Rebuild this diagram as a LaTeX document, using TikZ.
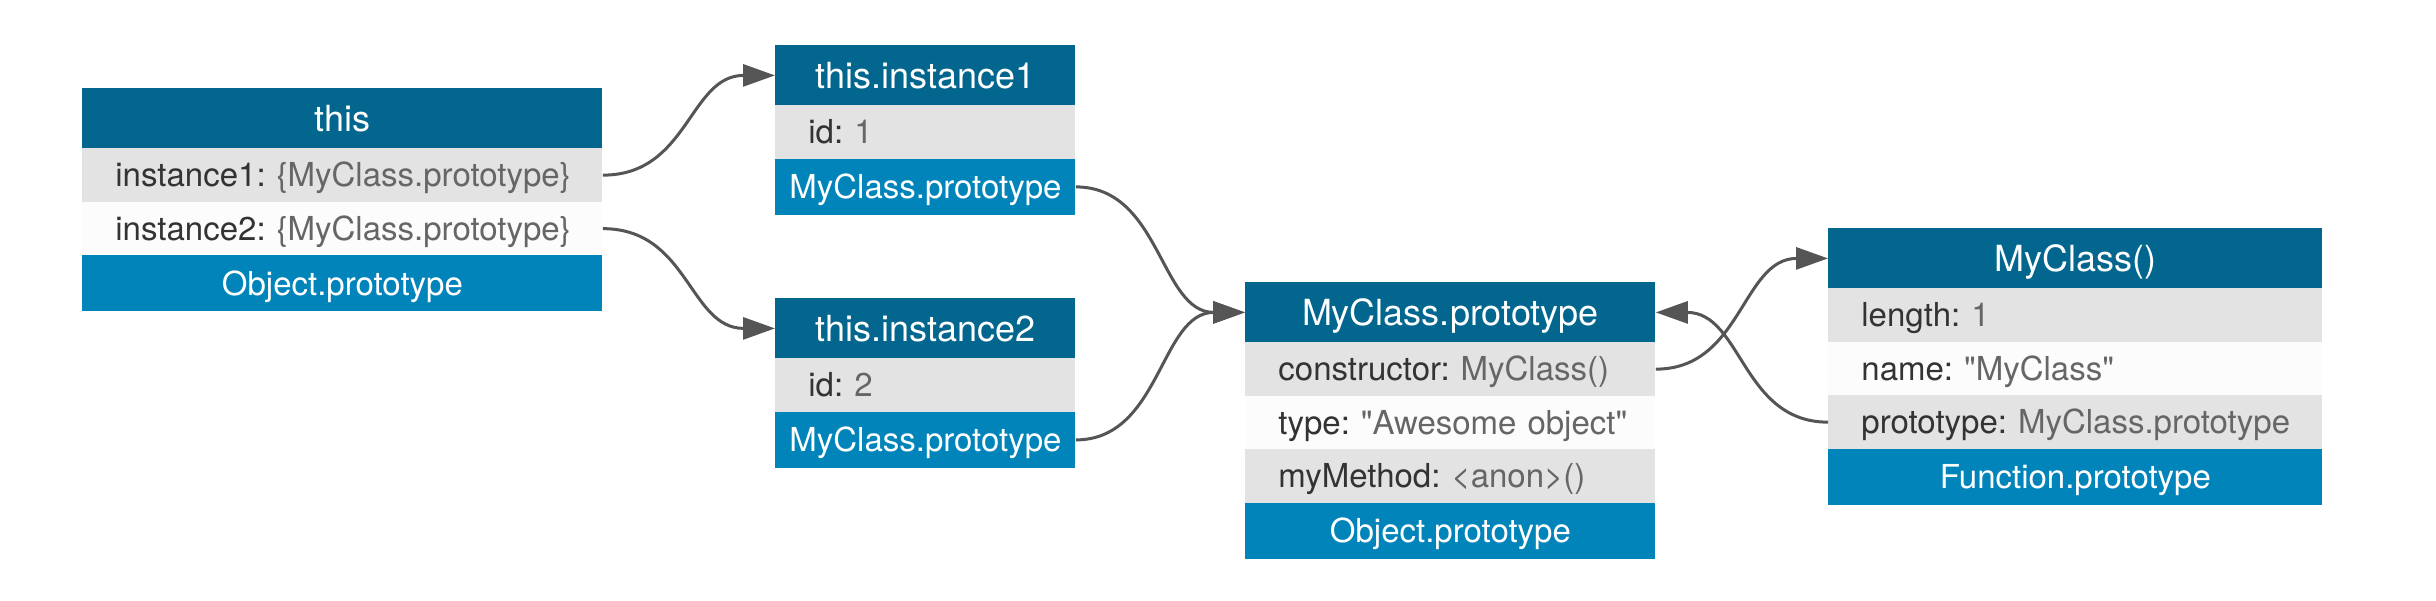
\documentclass[tikz,border=0pt]{standalone}
\usepackage{fontspec}
\setmainfont{TeX Gyre Heros}[Ligatures=TeXOff]
\usetikzlibrary{arrows.meta,calc}
\definecolor{hdr}{RGB}{2,102,143}
\definecolor{ftr}{RGB}{0,132,186}
\definecolor{rowgray}{RGB}{227,227,227}
\definecolor{rowwhite}{RGB}{252,252,252}
\definecolor{keyc}{RGB}{51,51,51}
\definecolor{valc}{RGB}{102,102,102}
\definecolor{linkc}{RGB}{85,85,85}
\newcommand{\val}[1]{\textcolor{valc}{#1}}
\frenchspacing
\begin{document}
\begin{tikzpicture}[x=0.5pt,y=-0.5pt,
  cellbase/.style={anchor=north west, inner ysep=0pt, text depth=0pt},
  hd/.style={cellbase, fill=hdr, text=white, font=\fontsize{18}{21}\selectfont,
    inner xsep=0pt, text height=12.9pt, align=center, minimum height=30pt, text width=#1},
  ft/.style={cellbase, fill=ftr, text=white, font=\fontsize{16.5}{20}\selectfont,
    inner xsep=0pt, text height=11.8pt, align=center, minimum height=28pt, text width=#1},
  rg/.style={cellbase, fill=rowgray, text=keyc, font=\fontsize{16.5}{20}\selectfont,
    inner xsep=16.5pt, text height=11.8pt, align=left, minimum height=26.75pt, text width=#1},
  rw/.style={rg=#1, fill=rowwhite},
  link/.style={draw=linkc, line width=1.5pt, -{Triangle[length=16pt,width=11pt]}}
]
\fill[white] (0,0) rectangle (2436,600);
\useasboundingbox (0,0) rectangle (2436,600);

% this
\node[hd=260pt] (t-h) at (82,88) {this};
\node[rg=227pt] (t-r1) at (82,148) {\mbox{instance1: \val{\{MyClass.prototype\}}}};
\node[rw=227pt] (t-r2) at (82,201.5) {\mbox{instance2: \val{\{MyClass.prototype\}}}};
\node[ft=260pt] (t-f) at (82,255) {Object.prototype};

% this.instance1
\node[hd=150pt] (i1-h) at (775,45) {this.instance1};
\node[rg=117pt] (i1-r1) at (775,105) {\mbox{id: \val{1}}};
\node[ft=150pt] (i1-f) at (775,158.5) {MyClass.prototype};

% this.instance2
\node[hd=150pt] (i2-h) at (775,298) {this.instance2};
\node[rg=117pt] (i2-r1) at (775,358) {\mbox{id: \val{2}}};
\node[ft=150pt] (i2-f) at (775,411.5) {MyClass.prototype};

% MyClass.prototype
\node[hd=205pt] (p-h) at (1245,282) {MyClass.prototype};
\node[rg=172pt] (p-r1) at (1245,342) {\mbox{constructor: \val{MyClass()}}};
\node[rw=172pt] (p-r2) at (1245,395.5) {\mbox{type: \val{"Awesome object"}}};
\node[rg=172pt] (p-r3) at (1245,449) {\mbox{myMethod: \val{<anon>()}}};
\node[ft=205pt] (p-f) at (1245,502.5) {Object.prototype};

% MyClass()
\node[hd=247pt] (m-h) at (1828,228) {MyClass()};
\node[rg=214pt] (m-r1) at (1828,288) {\mbox{length: \val{1}}};
\node[rw=214pt] (m-r2) at (1828,341.5) {\mbox{name: \val{"MyClass"}}};
\node[rg=214pt] (m-r3) at (1828,395) {\mbox{prototype: \val{MyClass.prototype}}};
\node[ft=247pt] (m-f) at (1828,448.5) {Function.prototype};

% links
\draw[link] (t-r1.east) .. controls ($(t-r1.east)+(86,0)$) and ($(i1-h.west)+(-86,0)$) .. (i1-h.west);
\draw[link] (t-r2.east) .. controls ($(t-r2.east)+(86,0)$) and ($(i2-h.west)+(-86,0)$) .. (i2-h.west);
\draw[link] (i1-f.east) .. controls ($(i1-f.east)+(85,0)$) and ($(p-h.west)+(-85,0)$) .. (p-h.west);
\draw[link] (i2-f.east) .. controls ($(i2-f.east)+(85,0)$) and ($(p-h.west)+(-85,0)$) .. (p-h.west);
\draw[link] (p-r1.east) .. controls ($(p-r1.east)+(86,0)$) and ($(m-h.west)+(-86,0)$) .. (m-h.west);
\draw[link] (m-r3.west) .. controls ($(m-r3.west)+(-86,0)$) and ($(p-h.east)+(86,0)$) .. (p-h.east);
\end{tikzpicture}
\end{document}
